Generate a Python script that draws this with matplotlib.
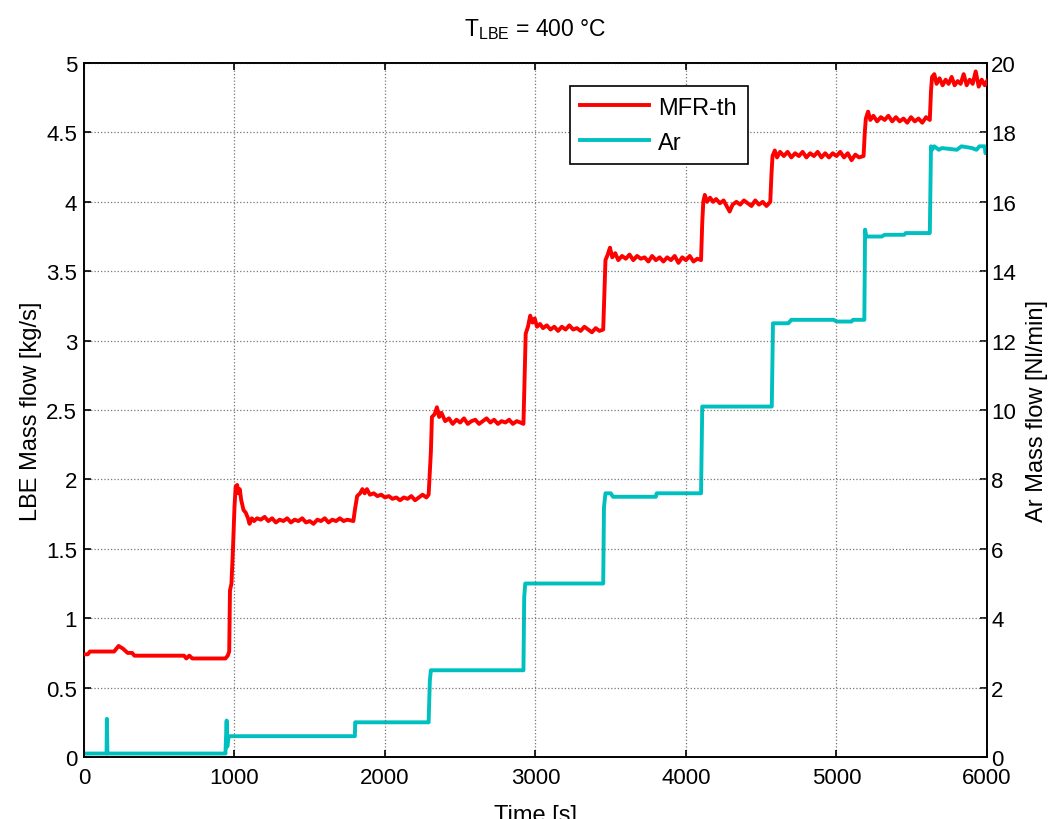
import numpy as np
import matplotlib
matplotlib.use('Agg')
import matplotlib.pyplot as plt

plt.rcParams['font.family'] = ['Liberation Sans', 'DejaVu Sans']
plt.rcParams['mathtext.fontset'] = 'custom'
plt.rcParams['mathtext.rm'] = 'Liberation Sans'
plt.rcParams['mathtext.it'] = 'Liberation Sans'

# LBE mass flow (left axis) [kg/s]
mfr_points = [
    (0, 0.74), (25, 0.74), (40, 0.76), (200, 0.76), (230, 0.80), (260, 0.78), (290, 0.75),
    (320, 0.75), (335, 0.73), (640, 0.73), (665, 0.73), (680, 0.71), (700, 0.73), (720, 0.71),
    (940, 0.71), (955, 0.73), (965, 0.76),
    (970, 1.20), (980, 1.25), (990, 1.50), (1000, 1.80), (1008, 1.95), (1018, 1.96), (1025, 1.90),
    (1035, 1.93), (1045, 1.85), (1060, 1.78), (1075, 1.76), (1090, 1.72), (1100, 1.68), (1115, 1.72),
    (1130, 1.70), (1150, 1.72), (1175, 1.71), (1200, 1.73), (1225, 1.70), (1250, 1.72), (1275, 1.69),
    (1300, 1.71), (1325, 1.70), (1350, 1.72), (1375, 1.69), (1400, 1.71), (1425, 1.70), (1450, 1.72),
    (1475, 1.69), (1500, 1.70), (1525, 1.68), (1550, 1.71), (1575, 1.70), (1600, 1.72), (1625, 1.69),
    (1650, 1.71), (1675, 1.70), (1700, 1.72), (1725, 1.70), (1750, 1.71), (1790, 1.70),
    (1800, 1.78), (1815, 1.88), (1835, 1.90), (1850, 1.93), (1865, 1.90), (1880, 1.93), (1900, 1.89),
    (1925, 1.90), (1950, 1.88), (1975, 1.89), (2000, 1.87), (2025, 1.88), (2050, 1.86), (2075, 1.87),
    (2100, 1.85), (2125, 1.87), (2150, 1.86), (2175, 1.88), (2200, 1.85), (2225, 1.87), (2250, 1.89),
    (2275, 1.87), (2290, 1.89),
    (2300, 2.10), (2305, 2.20), (2312, 2.45), (2330, 2.47), (2345, 2.52), (2360, 2.45), (2375, 2.48),
    (2400, 2.42), (2425, 2.44), (2450, 2.40), (2475, 2.43), (2500, 2.41), (2525, 2.44), (2550, 2.40),
    (2575, 2.42), (2600, 2.43), (2625, 2.40), (2650, 2.42), (2675, 2.44), (2700, 2.41), (2725, 2.43),
    (2750, 2.40), (2775, 2.42), (2800, 2.41), (2825, 2.43), (2850, 2.40), (2875, 2.42), (2900, 2.41),
    (2920, 2.40),
    (2928, 2.75), (2935, 3.05), (2950, 3.10), (2965, 3.18), (2980, 3.13), (2995, 3.16), (3010, 3.10),
    (3030, 3.12), (3050, 3.09), (3075, 3.11), (3100, 3.08), (3125, 3.10), (3150, 3.07), (3175, 3.10),
    (3200, 3.08), (3225, 3.11), (3250, 3.08), (3275, 3.09), (3300, 3.07), (3325, 3.10), (3350, 3.08),
    (3375, 3.06), (3400, 3.09), (3425, 3.07), (3450, 3.08),
    (3458, 3.35), (3465, 3.58), (3480, 3.62), (3495, 3.67), (3510, 3.60), (3530, 3.63), (3550, 3.58),
    (3575, 3.61), (3600, 3.59), (3625, 3.62), (3650, 3.58), (3675, 3.61), (3700, 3.59), (3725, 3.60),
    (3750, 3.57), (3775, 3.61), (3800, 3.58), (3825, 3.60), (3850, 3.57), (3875, 3.60), (3900, 3.58),
    (3925, 3.61), (3950, 3.56), (3975, 3.60), (4000, 3.58), (4025, 3.61), (4050, 3.57), (4075, 3.59),
    (4100, 3.58),
    (4108, 3.85), (4115, 4.00), (4125, 4.05), (4140, 4.00), (4160, 4.03), (4180, 4.00), (4200, 4.02),
    (4225, 3.99), (4250, 4.01), (4275, 3.96), (4290, 3.93), (4310, 3.98), (4335, 4.00), (4360, 3.98),
    (4385, 4.01), (4410, 3.99), (4435, 3.97), (4460, 4.01), (4485, 3.98), (4510, 4.00), (4535, 3.97),
    (4560, 4.00),
    (4568, 4.20), (4575, 4.33), (4590, 4.37), (4605, 4.32), (4625, 4.36), (4650, 4.33), (4675, 4.36),
    (4700, 4.32), (4725, 4.35), (4750, 4.33), (4775, 4.36), (4800, 4.32), (4825, 4.35), (4850, 4.33),
    (4875, 4.36), (4900, 4.32), (4925, 4.35), (4950, 4.32), (4975, 4.35), (5000, 4.33), (5025, 4.36),
    (5050, 4.32), (5075, 4.35), (5100, 4.30), (5125, 4.34), (5150, 4.32), (5180, 4.33),
    (5188, 4.50), (5195, 4.60), (5210, 4.65), (5225, 4.59), (5245, 4.62), (5270, 4.58), (5295, 4.61),
    (5320, 4.59), (5345, 4.62), (5370, 4.58), (5395, 4.61), (5420, 4.58), (5445, 4.60), (5470, 4.57),
    (5495, 4.61), (5520, 4.58), (5545, 4.60), (5570, 4.57), (5595, 4.61), (5620, 4.59),
    (5628, 4.80), (5635, 4.90), (5650, 4.92), (5665, 4.85), (5685, 4.89), (5705, 4.84), (5725, 4.88),
    (5745, 4.85), (5765, 4.90), (5785, 4.84), (5805, 4.87), (5825, 4.85), (5845, 4.92), (5865, 4.84),
    (5885, 4.88), (5905, 4.85), (5925, 4.94), (5945, 4.83), (5965, 4.88), (5985, 4.84), (6000, 4.87),
]

# Ar mass flow (right axis) [Nl/min]
ar_points = [
    (0, 0.1), (150, 0.1), (152, 1.1), (156, 0.1), (940, 0.1), (948, 1.05), (952, 0.3), (960, 0.55),
    (968, 0.6), (1800, 0.6), (1802, 1.0), (2290, 1.0), (2298, 2.2), (2305, 2.5), (2920, 2.5),
    (2925, 4.6), (2932, 5.0), (3450, 5.0), (3455, 7.2), (3465, 7.6), (3500, 7.6), (3515, 7.5),
    (3800, 7.5), (3805, 7.6), (4100, 7.6), (4108, 10.1), (4570, 10.1), (4578, 12.5), (4680, 12.5),
    (4700, 12.6), (4980, 12.6), (5000, 12.55), (5100, 12.55), (5110, 12.6), (5185, 12.6),
    (5190, 15.2), (5198, 15.0), (5300, 15.0), (5320, 15.05), (5450, 15.05), (5460, 15.1),
    (5620, 15.1), (5628, 17.6), (5635, 17.5), (5650, 17.6), (5680, 17.5), (5700, 17.55),
    (5800, 17.5), (5830, 17.6), (5900, 17.55), (5930, 17.5), (5950, 17.6), (5985, 17.6),
    (5990, 17.4), (6000, 17.5),
]

mfr_t, mfr_v = zip(*mfr_points)
ar_t, ar_v = zip(*ar_points)

x_ticks = [0, 1000, 2000, 3000, 4000, 5000, 6000]
left_ticks = [0, 0.5, 1, 1.5, 2, 2.5, 3, 3.5, 4, 4.5, 5]
left_labels = ['0', '0.5', '1', '1.5', '2', '2.5', '3', '3.5', '4', '4.5', '5']
right_ticks = [0, 2, 4, 6, 8, 10, 12, 14, 16, 18, 20]

fig = plt.figure(figsize=(10.51, 8.2), dpi=100)
ax = fig.add_axes([0.0799, 0.0756, 0.8592, 0.8463])
ax2 = ax.twinx()

l1, = ax.plot(mfr_t, mfr_v, color='#ff0000', lw=2.8, label='MFR-th', zorder=3)
l2, = ax2.plot(ar_t, ar_v, color='#00bfbf', lw=2.8, label='Ar', zorder=3)

ax.set_xlim(0, 6000)
ax.set_ylim(0, 5)
ax2.set_ylim(0, 20)
ax.set_xticks(x_ticks)
ax.set_yticks(left_ticks)
ax.set_yticklabels(left_labels)
ax2.set_yticks(right_ticks)

ax.grid(True, color='#777777', ls=':', lw=0.9)
ax.tick_params(axis='both', direction='in', length=5, width=1.2, labelsize=16, pad=5,
               top=True, right=False)
ax.tick_params(axis='x', pad=7)
ax2.tick_params(axis='y', direction='in', length=5, width=1.2, labelsize=16, pad=3)
for a in (ax, ax2):
    for s in a.spines.values():
        s.set_linewidth(1.2)

ax.set_xlabel('Time [s]', fontsize=17, labelpad=12)
ax.set_ylabel('LBE Mass flow [kg/s]', fontsize=17, labelpad=3)
ax2.set_ylabel('Ar Mass flow [Nl/min]', fontsize=17, labelpad=7)
ax.set_title(r'T$_{\mathrm{LBE}}$ = 400 °C', fontsize=16.5, pad=20)

leg = ax.legend(handles=[l1, l2], loc='upper left', bbox_to_anchor=(0.538, 0.967),
                fontsize=17, frameon=True, fancybox=False, edgecolor='black',
                framealpha=1, handlelength=2.9, handletextpad=0.4, borderpad=0.45,
                labelspacing=0.55, borderaxespad=0)
leg.get_frame().set_linewidth(1.2)
leg.set_zorder(10)
ax.set_zorder(ax2.get_zorder() + 1)
ax.patch.set_visible(False)

fig.savefig('out.png', dpi=100)
